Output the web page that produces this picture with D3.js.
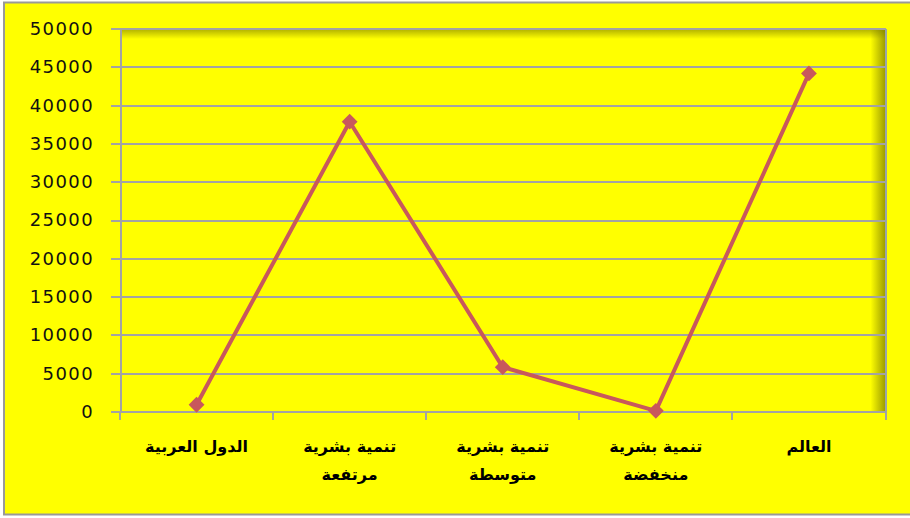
<!DOCTYPE html>
<html>
<head>
<meta charset="utf-8">
<script src="https://cdn.jsdelivr.net/npm/d3@7"></script>
<style>
  html, body { margin: 0; padding: 0; background: #ffffff; }
  svg { display: block; }
</style>
</head>
<body>
<svg id="chart" width="910" height="518"></svg>
<script>
// Category labels (two lines where the label wraps)
const categories = [
  ["الدول العربية"],
  ["تنمية بشرية", "مرتفعة"],
  ["تنمية بشرية", "متوسطة"],
  ["تنمية بشرية", "منخفضة"],
  ["العالم"]
];
const values = [950, 37900, 5850, 150, 44200];
const yTicks = [0, 5000, 10000, 15000, 20000, 25000, 30000, 35000, 40000, 45000, 50000];

const W = 910, H = 518;
const plot = { left: 120, right: 885.5, top: 29, bottom: 412 };

const svg = d3.select("#chart");
const defs = svg.append("defs");

// Inner shading along the top and right edges of the plot area
const gTop = defs.append("linearGradient").attr("id", "shTop").attr("x1", 0).attr("y1", 0).attr("x2", 0).attr("y2", 1);
gTop.append("stop").attr("offset", 0).attr("stop-color", "#7a7a00").attr("stop-opacity", 0.6);
gTop.append("stop").attr("offset", 1).attr("stop-color", "#7a7a00").attr("stop-opacity", 0);
const gRight = defs.append("linearGradient").attr("id", "shRight").attr("x1", 1).attr("y1", 0).attr("x2", 0).attr("y2", 0);
gRight.append("stop").attr("offset", 0).attr("stop-color", "#7a7a00").attr("stop-opacity", 0.75);
gRight.append("stop").attr("offset", 1).attr("stop-color", "#7a7a00").attr("stop-opacity", 0);

// Chart background and outer frame
svg.append("rect").attr("x", 0).attr("y", 0).attr("width", W).attr("height", H).attr("fill", "#ffffff");
svg.append("rect").attr("x", 4).attr("y", 2.5).attr("width", W + 10).attr("height", 512)
  .attr("fill", "#ffff00").attr("stroke", "#999999").attr("stroke-width", 2);

const x = d3.scaleBand().domain(d3.range(categories.length)).range([plot.left, plot.right]);
const y = d3.scaleLinear().domain([0, 50000]).range([plot.bottom, plot.top]);

// Plot area with edge shading
svg.append("rect").attr("x", plot.left).attr("y", plot.top)
  .attr("width", plot.right - plot.left).attr("height", plot.bottom - plot.top).attr("fill", "#ffff00");
svg.append("rect").attr("x", plot.left).attr("y", plot.top)
  .attr("width", plot.right - plot.left).attr("height", 10).attr("fill", "url(#shTop)");
svg.append("rect").attr("x", plot.right - 15).attr("y", plot.top)
  .attr("width", 15).attr("height", plot.bottom - plot.top).attr("fill", "url(#shRight)");

// Horizontal gridlines
svg.append("g").selectAll("line").data(yTicks).join("line")
  .attr("x1", plot.left - 9).attr("x2", plot.right)
  .attr("y1", d => Math.round(y(d))).attr("y2", d => Math.round(y(d)))
  .attr("stroke", "#a3a3a3").attr("stroke-width", 2).attr("shape-rendering", "crispEdges");

// Right border of the plot area
svg.append("line").attr("x1", plot.right).attr("x2", plot.right)
  .attr("y1", plot.top).attr("y2", plot.bottom + 8)
  .attr("stroke", "#9aa4a8").attr("stroke-width", 2).attr("shape-rendering", "crispEdges");

// Y axis
const yAxis = svg.append("g").attr("transform", `translate(${plot.left},0)`)
  .call(d3.axisLeft(y).tickValues(yTicks).tickSize(0).tickPadding(26).tickFormat(d3.format("d")));
yAxis.select(".domain").attr("stroke", "#a3a3a3").attr("stroke-width", 2).attr("shape-rendering", "crispEdges");
yAxis.selectAll("text").attr("font-family", "DejaVu Sans, Verdana, sans-serif")
  .attr("font-size", 18).attr("letter-spacing", 1.4).attr("fill", "#111").attr("dy", "0.3em");

// X axis ticks on category boundaries
const bounds = d3.range(categories.length + 1).map(i => plot.left + i * x.bandwidth());
svg.append("g").selectAll("line").data(bounds).join("line")
  .attr("x1", d => Math.round(d)).attr("x2", d => Math.round(d))
  .attr("y1", plot.bottom).attr("y2", plot.bottom + 8)
  .attr("stroke", "#a3a3a3").attr("stroke-width", 2).attr("shape-rendering", "crispEdges");

// X axis labels
const labels = svg.append("g").selectAll("text").data(categories).join("text")
  .attr("x", (d, i) => x(i) + x.bandwidth() / 2)
  .attr("y", 452)
  .attr("text-anchor", "middle")
  .attr("direction", "rtl")
  .attr("font-family", "DejaVu Sans, sans-serif")
  .attr("font-weight", "bold")
  .attr("font-size", 16)
  .attr("fill", "#000");
labels.selectAll("tspan").data(d => d).join("tspan")
  .attr("x", function () { return d3.select(this.parentNode).attr("x"); })
  .attr("dy", (d, i) => i === 0 ? 0 : 28)
  .text(d => d);

// Series line and diamond markers
const color = "#c8585c";
const line = d3.line().x((d, i) => x(i) + x.bandwidth() / 2).y(d => y(d));
svg.append("path").datum(values).attr("d", line)
  .attr("fill", "none").attr("stroke", color).attr("stroke-width", 4).attr("stroke-linejoin", "round");
svg.append("g").selectAll("path").data(values).join("path")
  .attr("transform", (d, i) => `translate(${x(i) + x.bandwidth() / 2},${y(d)})`)
  .attr("d", d3.symbol(d3.symbolDiamond2, 160))
  .attr("fill", color);
</script>
</body>
</html>
